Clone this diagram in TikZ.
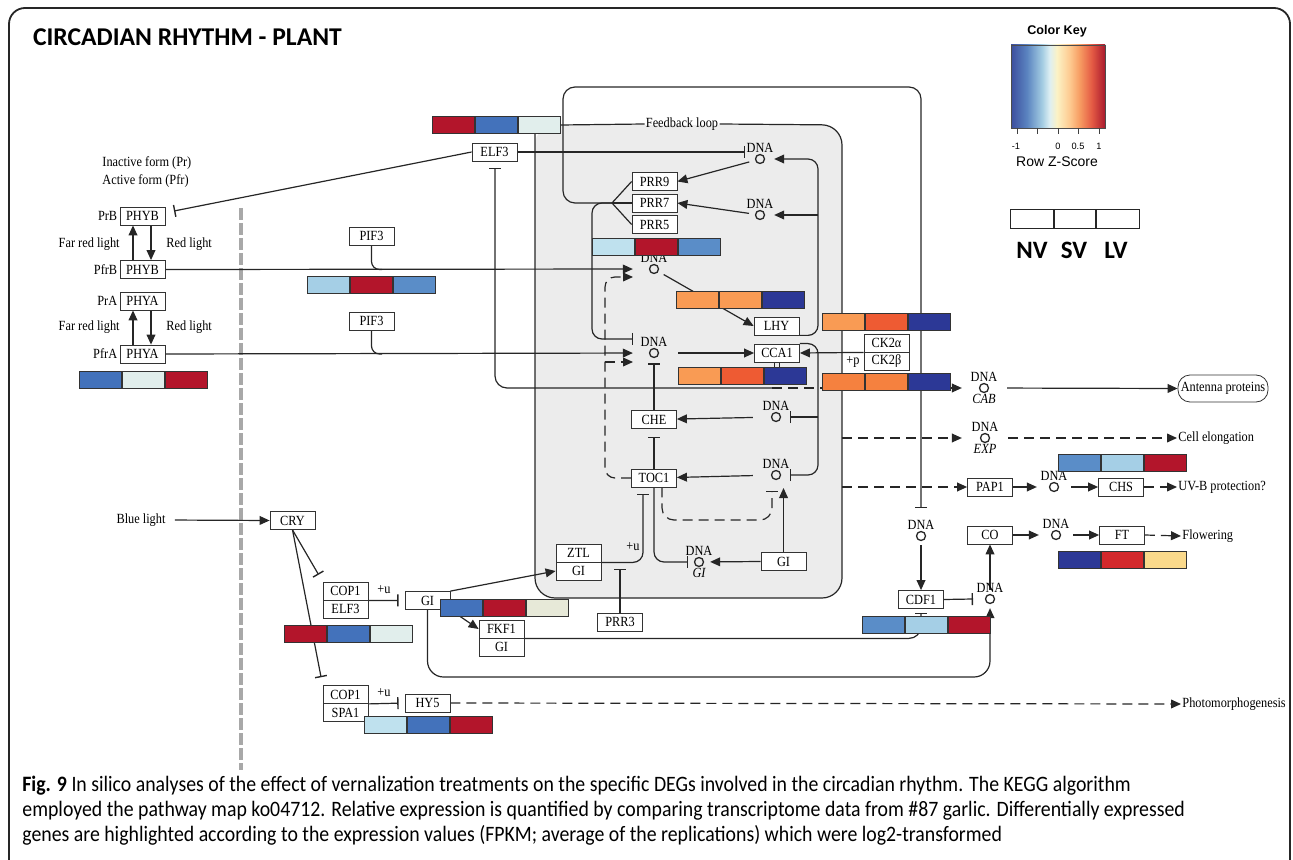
\documentclass[tikz,border=0pt]{standalone}
\usepackage{fontspec}
\setmainfont{Liberation Serif}
\newfontfamily\keggfont[FakeStretch=0.88]{Liberation Serif}
\newfontfamily\titlefont{Carlito}
\newfontfamily\capfont[FakeStretch=0.9]{Carlito}
\newfontfamily\keyfont{Liberation Sans}
\usetikzlibrary{arrows.meta,positioning,calc,backgrounds}

\definecolor{boxgrey}{HTML}{ECECEC}
\definecolor{dashgrey}{HTML}{A8A8A8}
\definecolor{exRed}{HTML}{B3152B}
\definecolor{exRedB}{HTML}{D4292C}
\definecolor{exBlue}{HTML}{4372BB}
\definecolor{exMidBlue}{HTML}{5A8DC8}
\definecolor{exLightBlue}{HTML}{A5CFE6}
\definecolor{exPaleBlue}{HTML}{BFE1EE}
\definecolor{exPale}{HTML}{E1EEEC}
\definecolor{exBeige}{HTML}{E7E9D8}
\definecolor{exNavy}{HTML}{2C3896}
\definecolor{exPeach}{HTML}{F99B54}
\definecolor{exOrange}{HTML}{F5813F}
\definecolor{exTomato}{HTML}{EE5B33}
\definecolor{exSand}{HTML}{FAD98B}
% colour key stops
\definecolor{keyA}{HTML}{3C4E9E}
\definecolor{keyB}{HTML}{5B84C0}
\definecolor{keyC}{HTML}{A3CCE2}
\definecolor{keyD}{HTML}{DDEFF3}
\definecolor{keyE}{HTML}{FCF2C4}
\definecolor{keyF}{HTML}{FDC88E}
\definecolor{keyG}{HTML}{F79C62}
\definecolor{keyH}{HTML}{E45A44}
\definecolor{keyI}{HTML}{A91A2E}

\pgfdeclarehorizontalshading{zscore}{100bp}{color(0bp)=(keyA); color(25bp)=(keyA);
  color(33.5bp)=(keyB); color(41.5bp)=(keyC); color(45.5bp)=(keyD); color(49.5bp)=(keyE);
  color(56.5bp)=(keyF); color(61.5bp)=(keyG); color(68bp)=(keyH); color(75bp)=(keyI); color(100bp)=(keyI)}

\newcommand{\kegg}{\keggfont\fontsize{7}{8}\selectfont}
% three-cell expression bar: name, left point, colours NV SV LV
\newcommand{\exprbar}[5]{%
  \node[exprcell, fill=#3] (#1a) at #2 {};
  \node[exprcell, fill=#4, right=0pt of #1a] (#1b) {};
  \node[exprcell, fill=#5, right=0pt of #1b] (#1c) {};}

\begin{document}
\begin{tikzpicture}[x=0.5pt, y=-0.5pt,
  gene/.style={draw=black!80, fill=white, minimum width=22.5pt, minimum height=9pt, inner sep=0pt, font=\kegg},
  exprcell/.style={draw=black!80, line width=0.5pt, minimum width=21pt, minimum height=8.5pt, inner sep=0pt, anchor=west},
  dna/.style={circle, draw=black!85, line width=0.65pt, minimum size=4.5pt, inner sep=0pt},
  lbl/.style={font=\kegg, inner sep=0.5pt},
  lbi/.style={lbl, font=\kegg\itshape},
  wire/.style={line width=0.6pt, draw=black!85},
  act/.style={wire, -{Triangle[length=5pt, width=4.4pt]}},
  inh/.style={wire, -{Bar[width=6pt, line width=0.7pt]}},
  dsh/.style={dash pattern=on 5pt off 3pt}
]
  \useasboundingbox (0,0) rectangle (1293,860);
  \draw[rounded corners=8pt, line width=0.9pt, black!85] (9,8) rectangle (1290,890);
  \node[anchor=west, font=\titlefont\bfseries\fontsize{12.8}{15}\selectfont] (title) at (26,37) {CIRCADIAN RHYTHM - PLANT};

  % colour key
  \node[font=\keyfont\bfseries\fontsize{6.3}{7}\selectfont] (keytitle) at (1057,31) {Color Key};
  \shadedraw[shading=zscore, draw=black!70, line width=0.4pt] (1011,45) rectangle (1105,128);
  \foreach \tx in {1017,1037,1058,1078,1099}
    \draw[black!75, line width=0.5pt] (\tx,128) -- (\tx,134);
  \node[font=\keyfont\fontsize{4.6}{5}\selectfont] (tk1) at (1016,146) {-1};
  \node[font=\keyfont\fontsize{4.6}{5}\selectfont] (tk2) at (1058,146) {0};
  \node[font=\keyfont\fontsize{4.6}{5}\selectfont] (tk3) at (1078,146) {0.5};
  \node[font=\keyfont\fontsize{4.6}{5}\selectfont] (tk4) at (1099,146) {1};
  \node[font=\keyfont\fontsize{7}{8}\selectfont] (zlabel) at (1057,162) {Row Z-Score};
  \node[draw=black!85, minimum width=21.5pt, minimum height=9.5pt, inner sep=0pt, anchor=west] (nvbox) at (1010,218.5) {};
  \node[draw=black!85, minimum width=20.5pt, minimum height=9.5pt, inner sep=0pt, right=0pt of nvbox] (svbox) {};
  \node[draw=black!85, minimum width=21.5pt, minimum height=9.5pt, inner sep=0pt, right=0pt of svbox] (lvbox) {};
  \node[font=\titlefont\bfseries\fontsize{12.5}{14}\selectfont] (nv) at (1032,250) {NV};
  \node[font=\titlefont\bfseries\fontsize{12.5}{14}\selectfont] (sv) at (1074,250) {SV};
  \node[font=\titlefont\bfseries\fontsize{12.5}{14}\selectfont] (lv) at (1116,250) {LV};

  % phytochromes
  \node[lbl, anchor=west] (inact) at (101,163) {Inactive form (Pr)};
  \node[lbl, anchor=west] (actform) at (101,181) {Active form (Pfr)};
  \node[gene] (phyBi) at (142.5,216) {PHYB};
  \node[lbl, left=0.5pt of phyBi] (prB) {PrB};
  \node[gene] (phyBa) at (142.5,269.5) {PHYB};
  \node[lbl, left=0.5pt of phyBa] (pfrB) {PfrB};
  \node[gene] (phyAi) at (142.5,301) {PHYA};
  \node[lbl, left=0.5pt of phyAi] (prA) {PrA};
  \node[gene] (phyAa) at (142.5,354) {PHYA};
  \node[lbl, left=0.5pt of phyAa] (pfrA) {PfrA};
  \node[lbl, anchor=east] (farB) at (121,244) {Far red light};
  \node[lbl, anchor=west] (redB) at (165,244) {Red light};
  \node[lbl, anchor=east] (farA) at (121,327) {Far red light};
  \node[lbl, anchor=west] (redA) at (165,327) {Red light};
  \exprbar{phyAbar}{(79,380.5)}{exBlue}{exPale}{exRed}

  \node[gene] (pif3b) at (371.5,236) {PIF3};
  \node[gene] (pif3a) at (371.5,321) {PIF3};
  \exprbar{pifbar}{(307,285.5)}{exLightBlue}{exRed}{exMidBlue}
  \node[gene] (elf3) at (494.5,152) {ELF3};
  \exprbar{elfbar}{(432,125)}{exRed}{exBlue}{exPale}
  \node[lbl] (fbloop) at (682,124) {Feedback loop};

  % core clock
  \node[gene] (prr9) at (654.5,181.5) {PRR9};
  \node[gene] (prr7) at (654.5,203) {PRR7};
  \node[gene] (prr5) at (654.5,224.5) {PRR5};
  \node[dna, label={[lbl]above:DNA}] (dna1) at (760,159) {};
  \node[dna, label={[lbl]above:DNA}] (dna2) at (760,215) {};
  \node[dna, label={[lbl]above:DNA}] (dnaL) at (654,269) {};
  \node[dna, label={[lbl]above:DNA}] (dnaC) at (654,353) {};
  \node[gene] (lhy) at (776.5,326) {LHY};
  \node[gene] (cca1) at (777,353) {CCA1};
  \node[gene] (ck2a) at (886.5,343) {CK2α};
  \node[gene] (ck2b) at (886.5,361) {CK2β};
  \node[lbl] (plusp) at (853,362) {+p};
  \node[gene] (che) at (654,419.5) {CHE};
  \node[gene] (toc1) at (654,478) {TOC1};
  \node[dna, label={[lbl]above:DNA}] (dnaChe) at (776,417) {};
  \node[dna, label={[lbl]above:DNA}] (dnaToc) at (776,475) {};
  \node[gene] (giin) at (783.5,561.5) {GI};
  \node[dna, label={[lbl]above:DNA}, label={[lbi]below:GI}] (dnaGi) at (699,562) {};
  \node[gene] (ztl) at (578.5,553) {ZTL};
  \node[gene] (gizt) at (578.5,571) {GI};
  \node[lbl] (plusu1) at (633,547) {+u};
  \node[gene] (prr3) at (620,622) {PRR3};
  \exprbar{prrbar}{(592,247)}{exPaleBlue}{exRed}{exMidBlue}
  \exprbar{lhybar}{(676,300.5)}{exPeach}{exPeach}{exNavy}
  \exprbar{ccabar}{(678,376.5)}{exPeach}{exTomato}{exNavy}
  \exprbar{cktbar}{(822,322)}{exPeach}{exTomato}{exNavy}
  \exprbar{ckbbar}{(822,382)}{exOrange}{exOrange}{exNavy}

  % outputs
  \node[dna, label={[lbl]above:DNA}, label={[lbi]below:CAB}] (dnaCab) at (984,388) {};
  \node[draw=black!80, rounded corners=6pt, minimum width=45pt, minimum height=13.5pt, inner sep=0pt, font=\kegg] (antenna) at (1223,388.5) {Antenna proteins};
  \node[dna, label={[lbl]above:DNA}, label={[lbi]below:EXP}] (dnaExp) at (985,438) {};
  \node[lbl, anchor=west] (cellel) at (1177,438) {Cell elongation};
  \node[gene] (pap1) at (990,487) {PAP1};
  \node[dna, label={[lbl]above:DNA}] (dnaChs) at (1054,487) {};
  \node[gene] (chs) at (1121,487) {CHS};
  \node[lbl, anchor=west] (uvb) at (1177,487) {UV-B protection?};
  \exprbar{chsbar}{(1058,462.5)}{exMidBlue}{exLightBlue}{exRed}
  \node[dna, label={[lbl]above:DNA}] (dnaR) at (921,536) {};
  \node[gene] (co) at (990,535) {CO};
  \node[dna, label={[lbl]above:DNA}] (dnaFt) at (1056,535) {};
  \node[gene] (ft) at (1122,535) {FT};
  \node[lbl, anchor=west] (flower) at (1181,536) {Flowering};
  \exprbar{ftbar}{(1058,559.5)}{exNavy}{exRedB}{exSand}
  \node[gene] (cdf1) at (921,599.5) {CDF1};
  \node[dna, label={[lbl]above:DNA}] (dnaCo) at (990,599) {};
  \exprbar{cdfbar}{(862,625)}{exMidBlue}{exLightBlue}{exRed}

  % blue light branch
  \node[lbl] (bluel) at (141,520) {Blue light};
  \node[gene] (cry) at (292.5,520.5) {CRY};
  \node[gene] (cop1a) at (345.5,591) {COP1};
  \node[gene] (elf3b) at (345.5,609) {ELF3};
  \node[lbl] (plusu2) at (384,590) {+u};
  \node[gene] (gil) at (427.5,600.5) {GI};
  \exprbar{gibar}{(440,608)}{exBlue}{exRed}{exBeige}
  \node[gene] (fkf1) at (501.5,629) {FKF1};
  \node[gene] (gifk) at (501.5,647) {GI};
  \exprbar{crybar}{(284,634)}{exRed}{exBlue}{exPale}
  \node[gene] (cop1b) at (345.5,694.5) {COP1};
  \node[gene] (spa1) at (345.5,712.5) {SPA1};
  \node[lbl] (plusu3) at (384,693) {+u};
  \node[gene] (hy5) at (427.5,703) {HY5};
  \exprbar{hybar}{(364,725)}{exPaleBlue}{exBlue}{exRed}
  \node[lbl, anchor=west] (photo) at (1181,704) {Photomorphogenesis};

  \node[anchor=north west, align=left, inner sep=0pt, font=\capfont\fontsize{11}{12.5}\selectfont] (caption) at (22,776)
    {\textbf{Fig. 9} In silico analyses of the effect of vernalization treatments on the specific DEGs involved in the circadian rhythm. The KEGG algorithm\\
     employed the pathway map ko04712. Relative expression is quantified by comparing transcriptome data from \#87 garlic. Differentially expressed\\
     genes are highlighted according to the expression values (FPKM; average of the replications) which were log2-transformed};

  % free ends of connectors
  \coordinate (prrj) at (612,203);
  \coordinate (tR) at (921,508);
  \coordinate (tC) at (633,339);
  \coordinate (tE1) at (745,152);
  \coordinate (tPhy) at (174,211);
  \coordinate (tE2) at (495,168);
  \coordinate (cabj) at (772,388);
  \coordinate (pifj1) at (382,269.5);
  \coordinate (pifj2) at (382,354);
  \coordinate (lhyj) at (818,159);
  \coordinate (lhyk) at (818,215);
  \coordinate (ccaj) at (818,475);
  \coordinate (ccak) at (818,417);
  \coordinate (tToc) at (790,475);
  \coordinate (tChe) at (790,417);
  \coordinate (tocj) at (605,277);
  \coordinate (tL) at (633,277);
  \coordinate (tock) at (605,362);
  \coordinate (tC2) at (633,362);
  \coordinate (tocm) at (772,520);
  \coordinate (tTd) at (772,491);
  \coordinate (tTa) at (783.5,488);
  \coordinate (tGi) at (688,562);
  \coordinate (tZt) at (643,494);
  \coordinate (tP3) at (620,569);
  \coordinate (tCd) at (921,613);
  \coordinate (coj) at (990,677);
  \coordinate (tCo) at (973,599);
  \coordinate (gr2) at (842,438);
  \coordinate (gr3) at (842,487);
  \coordinate (greytop) at (241,208);
  \coordinate (greybot) at (241,770);

  \begin{scope}[on background layer]
    \fill[boxgrey, rounded corners=10pt] (535,125) rectangle (842,598);
    \draw[wire, rounded corners=10pt] (fbloop.east) -- (842,125) -- (842,598) -- (535,598) -- (535,130);
    \draw[wire] (elfbarc.east) -- (fbloop.west);
    \draw[dashgrey, line width=2pt, dash pattern=on 6pt off 1.5pt] (greytop) -- (greybot);

    \draw[act] ([xshift=-4.75pt]phyBa.north) -- ([xshift=-4.75pt]phyBi.south);
    \draw[act] ([xshift=4.25pt]phyBi.south) -- ([xshift=4.25pt]phyBa.north);
    \draw[act] ([xshift=-4.75pt]phyAa.north) -- ([xshift=-4.75pt]phyAi.south);
    \draw[act] ([xshift=4.25pt]phyAi.south) -- ([xshift=4.25pt]phyAa.north);
    \draw[act, shorten >=8pt] (phyBa.east) -- (dnaL);
    \draw[act, shorten >=8pt] (phyAa.east) -- (dnaC);
    \draw[wire, rounded corners=4pt] (pif3b.south) |- (pifj1);
    \draw[wire, rounded corners=4pt] (pif3a.south) |- (pifj2);
    \draw[inh] (elf3.west) -- (tPhy);
    \draw[inh] (elf3.east) -- (tE1);
    \draw[wire, {Bar[width=6pt, line width=0.7pt]}-, rounded corners=6pt] (tE2) |- (cabj);
    \draw[act, dsh, shorten >=8.5pt] (cabj) -- (dnaCab);

    \draw[wire] (prr9.west) -- (prrj);
    \draw[wire] (prr7.west) -- (prrj);
    \draw[wire] (prr5.west) -- (prrj);
    \draw[inh, rounded corners=6pt] (prrj) -- (563,203) -- (563,87) -- (921,87) -- (tR);
    \draw[inh, rounded corners=5pt] (prrj) -| (592,339) -- (tC);
    \draw[act, shorten <=3pt] (dna1) -- (prr9.east);
    \draw[act, shorten <=3pt] (dna2) -- (prr7.east);
    \draw[act, rounded corners=5pt, shorten >=4.5pt] (lhy.south east) -| (lhyj) -- (dna1);
    \draw[act, shorten >=4.5pt] (lhyk) -- (dna2);
    \draw[act, shorten <=3pt] (dnaL) -- (lhy.west);
    \draw[act, shorten <=9.5pt] (dnaC) -- (cca1.west);
    \draw[act] (ck2a.south west) -- (cca1.east);
    \draw[inh, rounded corners=5pt] (cca1.north east) -| (ccaj) -- (tToc);
    \draw[inh] (ccak) -- (tChe);
    \draw[wire] ([xshift=-1.3pt]cca1.south) -- ++(0,6);
    \draw[wire] ([xshift=1.3pt]cca1.south) -- ++(0,6);
    \draw[act, shorten <=9pt] (dnaChe) -- (che);
    \draw[act, shorten <=9pt] (dnaToc) -- (toc1);
    \draw[inh, shorten >=2.5pt] (che.north) -- (dnaC);
    \draw[inh, shorten >=4pt] (toc1.north) -- (che.south);
    \draw[act, dsh, rounded corners=5pt] (toc1.west) -| (tocj) -- (tL);
    \draw[act, dsh] (tock) -- (tC2);
    \draw[inh, dsh, rounded corners=6pt] ([xshift=4pt]toc1.south) |- (tocm) -- (tTd);
    \draw[act] (giin.north) -- (tTa);
    \draw[act, shorten >=3pt] (giin.west) -- (dnaGi);
    \draw[inh, rounded corners=5pt] (toc1.south) |- (tGi);
    \draw[inh, rounded corners=5pt] (ztl.south east) -| (tZt);
    \draw[inh] (prr3.north) -- (tP3);

    \draw[act] (gil.north east) -- (gizt.west);
    \draw[act] (gil.south east) -- (fkf1.west);
    \draw[inh, rounded corners=6pt] (fkf1.south east) -| (tCd);
    \draw[act, rounded corners=8pt, shorten >=2pt] (gil.south) |- (coj) -- (dnaCo);
    \draw[act, shorten <=2pt] (dnaR) -- (cdf1.north);
    \draw[inh] (cdf1.east) -- (tCo);
    \draw[act, shorten <=2pt] (dnaCo) -- (co.south);
    \draw[act, shorten >=6pt] (co.east) -- (dnaFt);
    \draw[act, shorten <=6pt] (dnaFt) -- (ft.west);
    \draw[act, dsh] (ft.east) -- (flower.west);
    \draw[act, dsh] (gr3) -- (pap1.west);
    \draw[act, shorten >=6pt] (pap1.east) -- (dnaChs);
    \draw[act, shorten <=6pt] (dnaChs) -- (chs.west);
    \draw[act, dsh] (chs.east) -- (uvb.west);
    \draw[act, dsh, shorten >=9pt] (gr2) -- (dnaExp);
    \draw[act, dsh, shorten <=9pt] (dnaExp) -- (cellel.west);
    \draw[act, shorten <=9pt] (dnaCab) -- (antenna.west);

    \draw[act, shorten <=4pt] (bluel.east) -- (cry.west);
    \draw[inh, shorten >=4pt] (cry.south) -- (cop1a.north west);
    \draw[inh, shorten >=4pt] (cry.south) -- (cop1b.north west);
    \draw[inh, shorten >=3pt] (cop1a.south east) -- (gil.west);
    \draw[inh, shorten >=3pt] (cop1b.south east) -- (hy5.west);
    \draw[act, dsh] (hy5.east) -- (photo.west);
  \end{scope}
\end{tikzpicture}
\end{document}
